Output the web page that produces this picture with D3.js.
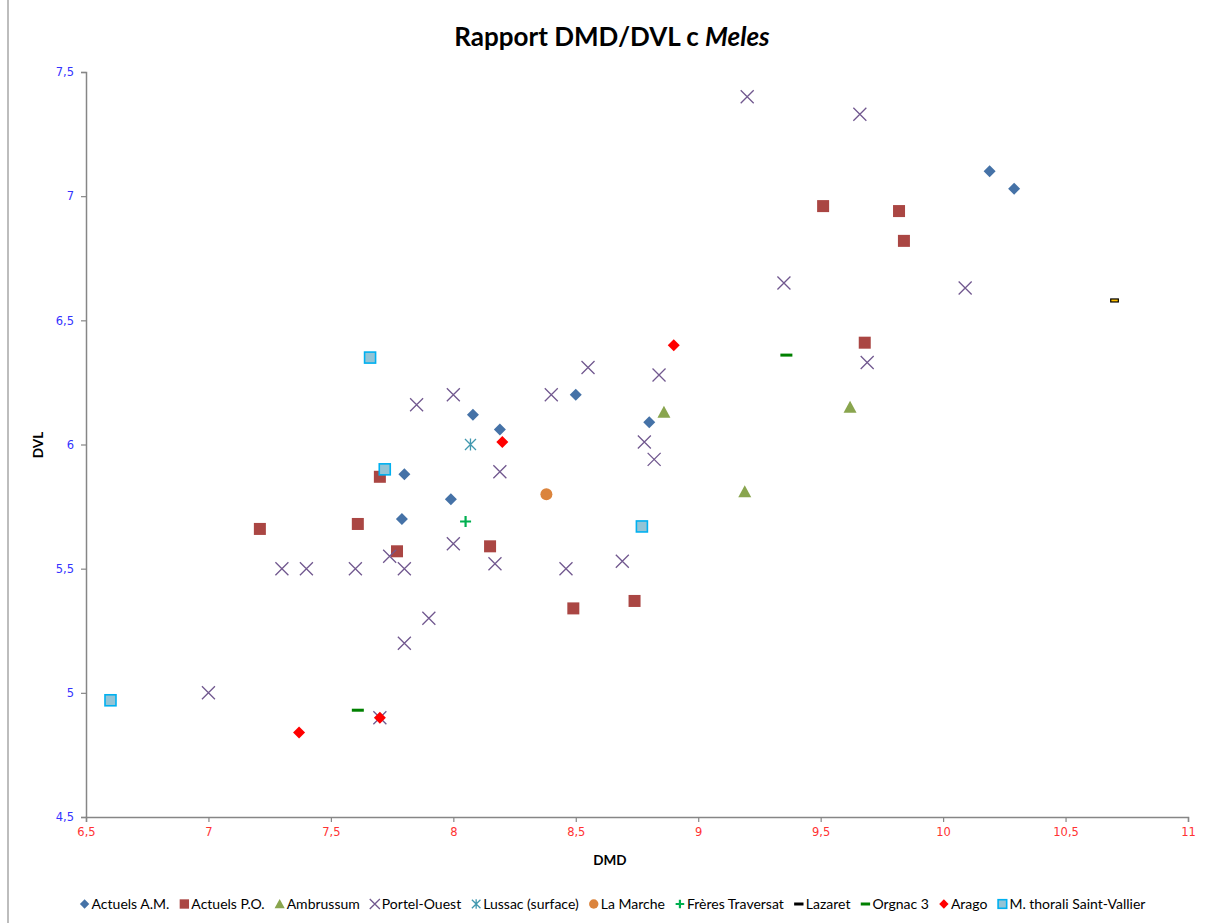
<!DOCTYPE html>
<html><head><meta charset="utf-8">
<script src="https://cdn.jsdelivr.net/npm/d3@7"></script>
<style>body{margin:0;background:#fff}svg{display:block}</style>
</head><body><svg id="c" width="1210" height="923"></svg>
<script>
const xTicks = [6.5,7,7.5,8,8.5,9,9.5,10,10.5,11];
const yTicks = [4.5,5,5.5,6,6.5,7,7.5];

const actuelsAM_x = [10.19,10.29,8.50,8.08,8.19,8.80,7.80,7.99,7.79];
const actuelsAM_y = [7.10,7.03,6.20,6.12,6.06,6.09,5.88,5.78,5.70];
const actuelsPO_x = [9.51,9.82,9.84,9.68,7.21,7.61,7.70,7.77,8.15,8.49,8.74];
const actuelsPO_y = [6.96,6.94,6.82,6.41,5.66,5.68,5.87,5.57,5.59,5.34,5.37];
const ambrussum_x = [8.86,9.62,9.19];
const ambrussum_y = [6.13,6.15,5.81];
const portel_x = [9.20,9.66,9.35,10.09,9.69,8.55,8.84,8.00,8.40,7.85,8.78,8.82,8.19,8.00,7.30,7.40,7.60,7.74,7.80,8.17,8.46,8.69,7.90,7.80,7.00,7.70];
const portel_y = [7.40,7.33,6.65,6.63,6.33,6.31,6.28,6.20,6.20,6.16,6.01,5.94,5.89,5.60,5.50,5.50,5.50,5.55,5.50,5.52,5.50,5.53,5.30,5.20,5.00,4.90];
const lussac_x = [8.07];
const lussac_y = [6.00];
const laMarche_x = [8.38];
const laMarche_y = [5.80];
const freres_x = [8.05];
const freres_y = [5.69];
const lazaret_x = [10.70];
const lazaret_y = [6.58];
const orgnac_x = [9.36,7.61];
const orgnac_y = [6.36,4.93];
const arago_x = [8.90,8.20,7.37,7.70];
const arago_y = [6.40,6.01,4.84,4.90];
const thorali_x = [6.60,7.66,7.72,8.77];
const thorali_y = [4.97,6.35,5.90,5.67];

const series = [
  {name:"Actuels A.M.", xs:actuelsAM_x, ys:actuelsAM_y, shape:"diamond", fill:"#4572A7", stroke:"none"},
  {name:"Actuels P.O.", xs:actuelsPO_x, ys:actuelsPO_y, shape:"square", fill:"#AA4643", stroke:"none"},
  {name:"Ambrussum", xs:ambrussum_x, ys:ambrussum_y, shape:"triangle", fill:"#89A54E", stroke:"none"},
  {name:"Portel-Ouest", xs:portel_x, ys:portel_y, shape:"x", fill:"none", stroke:"#71588F"},
  {name:"Lussac (surface)", xs:lussac_x, ys:lussac_y, shape:"star", fill:"none", stroke:"#4198AF"},
  {name:"La Marche", xs:laMarche_x, ys:laMarche_y, shape:"circle", fill:"#DB843D", stroke:"none"},
  {name:"Frères Traversat", xs:freres_x, ys:freres_y, shape:"plus", fill:"none", stroke:"#00B050"},
  {name:"Lazaret", xs:lazaret_x, ys:lazaret_y, shape:"dashbox", fill:"#FFC000", stroke:"#000000"},
  {name:"Orgnac 3", xs:orgnac_x, ys:orgnac_y, shape:"dash", fill:"#008000", stroke:"none"},
  {name:"Arago", xs:arago_x, ys:arago_y, shape:"diamond", fill:"#FF0000", stroke:"none"},
  {name:"M. thorali Saint-Vallier", xs:thorali_x, ys:thorali_y, shape:"square2", fill:"#93C4D6", stroke:"#00B0F0"}
];

const svg = d3.select("#c");
const W = 1210, H = 923;
const mLeft = 86, mRight = 1188, mTop = 72, mBottom = 817;
const x = d3.scaleLinear().domain([6.5,11]).range([mLeft,mRight]);
const y = d3.scaleLinear().domain([4.5,7.5]).range([mBottom,mTop]);
const fmt = d => String(d).replace(".", ",");

// outer left border
svg.append("line").attr("x1",8).attr("x2",8).attr("y1",0).attr("y2",H)
  .attr("stroke","#BDBDBD").attr("stroke-width",2);

// title
const title = svg.append("text").attr("x",612).attr("y",46).attr("text-anchor","middle")
  .attr("font-family","Lato, 'Open Sans', sans-serif").attr("font-weight","bold").attr("font-size",26).attr("fill","#000");
title.append("tspan").text("Rapport DMD/DVL c ");
title.append("tspan").attr("font-style","italic").text("Meles");

// axes
const xAxis = d3.axisBottom(x).tickValues(xTicks).tickFormat(fmt).tickSize(5).tickPadding(6);
const yAxis = d3.axisLeft(y).tickValues(yTicks).tickFormat(fmt).tickSize(5).tickPadding(7);
const gx = svg.append("g").attr("transform",`translate(0,${mBottom})`).call(xAxis);
const gy = svg.append("g").attr("transform",`translate(${mLeft},0)`).call(yAxis);
[gx,gy].forEach(g=>{
  g.select(".domain").attr("stroke","#868686").attr("stroke-width",1.5);
  g.selectAll(".tick line").attr("stroke","#868686").attr("stroke-width",1.2);
  g.selectAll("text").attr("font-family","'DejaVu Sans', sans-serif").attr("font-size",11.5);
});
gx.selectAll("text").attr("fill","#FF3333");
gy.selectAll("text").attr("fill","#3333FF");

svg.append("text").attr("x",610).attr("y",865).attr("text-anchor","middle")
  .attr("font-family","Lato, sans-serif").attr("font-weight","bold").attr("font-size",13.5).text("DMD");
svg.append("text").attr("transform","translate(43,445) rotate(-90)").attr("text-anchor","middle")
  .attr("font-family","Lato, sans-serif").attr("font-weight","bold").attr("font-size",13.5).text("DVL");

function drawMarker(g, s, cx, cy, k){
  k = k||1;
  const add = (tag)=>g.append(tag);
  switch(s.shape){
    case "diamond": { const r=6*k;
      add("path").attr("d",`M${cx},${cy-r}L${cx+r},${cy}L${cx},${cy+r}L${cx-r},${cy}Z`).attr("fill",s.fill); break; }
    case "square": { const r=6*k;
      add("rect").attr("x",cx-r).attr("y",cy-r).attr("width",2*r).attr("height",2*r).attr("fill",s.fill); break; }
    case "square2": { const r=5.5*k;
      add("rect").attr("x",cx-r).attr("y",cy-r).attr("width",2*r).attr("height",2*r).attr("fill",s.fill)
        .attr("stroke",s.stroke).attr("stroke-width",1.6); break; }
    case "triangle": { const r=6.5*k;
      add("path").attr("d",`M${cx},${cy-r}L${cx+r},${cy+r*0.85}L${cx-r},${cy+r*0.85}Z`).attr("fill",s.fill); break; }
    case "x": { const r=6.5*k;
      add("path").attr("d",`M${cx-r},${cy-r}L${cx+r},${cy+r}M${cx-r},${cy+r}L${cx+r},${cy-r}`)
        .attr("stroke",s.stroke).attr("stroke-width",1.3).attr("fill","none"); break; }
    case "star": { const r=5.5*k;
      add("path").attr("d",`M${cx-r},${cy-r}L${cx+r},${cy+r}M${cx-r},${cy+r}L${cx+r},${cy-r}M${cx},${cy-r-0.5}L${cx},${cy+r+0.5}`)
        .attr("stroke",s.stroke).attr("stroke-width",1.3).attr("fill","none"); break; }
    case "circle": { add("circle").attr("cx",cx).attr("cy",cy).attr("r",6*k).attr("fill",s.fill); break; }
    case "plus": { const r=5.5*k;
      add("path").attr("d",`M${cx-r},${cy}L${cx+r},${cy}M${cx},${cy-r}L${cx},${cy+r}`)
        .attr("stroke",s.stroke).attr("stroke-width",2.2).attr("fill","none"); break; }
    case "dash": { const r=6*k;
      add("rect").attr("x",cx-r).attr("y",cy-1.5).attr("width",2*r).attr("height",3).attr("fill",s.fill); break; }
    case "dashbox": { const r=3.8*k;
      add("rect").attr("x",cx-r).attr("y",cy-1.5).attr("width",2*r).attr("height",3).attr("fill",s.fill)
        .attr("stroke",s.stroke).attr("stroke-width",1.2); break; }
  }
}

const plot = svg.append("g");
series.forEach(s=>{
  const g = plot.append("g");
  s.xs.forEach((v,i)=>drawMarker(g, s, x(v), y(s.ys[i]), 1));
});

// legend
const lg = svg.append("g");
const ly = 904;
const items = [];
series.forEach(s=>{
  const g = lg.append("g");
  const t = g.append("text").attr("x",9).attr("y",5).attr("font-family","Lato, sans-serif").attr("font-size",14).attr("fill","#000").text(s.name);
  const w = t.node().getComputedTextLength();
  items.push({g,s,w});
});
const gap = 13;
const total = d3.sum(items, d=>d.w+9) + gap*(items.length-1);
let lx = 614 - total/2;
items.forEach(it=>{
  it.g.attr("transform",`translate(${lx},${ly})`);
  const s = it.s;
  const leg = Object.assign({}, s);
  if (s.shape==="dashbox") { leg.shape="dash"; leg.fill="#000"; }
  drawMarker(it.g, leg, 2, 0, 0.78);
  lx += it.w + 9 + gap;
});
</script></body></html>
